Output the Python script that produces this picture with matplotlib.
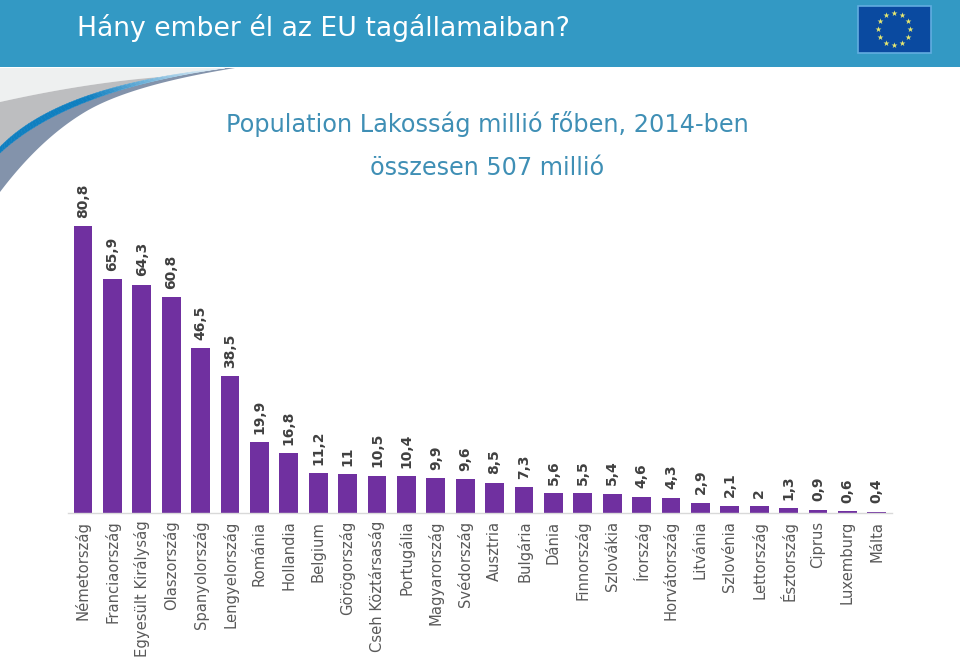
import numpy as np
from matplotlib import pyplot as plt
from matplotlib.colors import to_rgb
from matplotlib.patches import Rectangle

countries = ["Németország", "Franciaország", "Egyesült Királyság", "Olaszország",
             "Spanyolország", "Lengyelország", "Románia", "Hollandia", "Belgium",
             "Görögország", "Cseh Köztársaság", "Portugália", "Magyarország",
             "Svédország", "Ausztria", "Bulgária", "Dánia", "Finnország", "Szlovákia",
             "Írország", "Horvátország", "Litvánia", "Szlovénia", "Lettország",
             "Észtország", "Ciprus", "Luxemburg", "Málta"]
population = [80.8, 65.9, 64.3, 60.8, 46.5, 38.5, 19.9, 16.8, 11.2, 11, 10.5, 10.4,
              9.9, 9.6, 8.5, 7.3, 5.6, 5.5, 5.4, 4.6, 4.3, 2.9, 2.1, 2, 1.3, 0.9, 0.6, 0.4]
pop_labels = ["80,8", "65,9", "64,3", "60,8", "46,5", "38,5", "19,9", "16,8", "11,2",
              "11", "10,5", "10,4", "9,9", "9,6", "8,5", "7,3", "5,6", "5,5", "5,4",
              "4,6", "4,3", "2,9", "2,1", "2", "1,3", "0,9", "0,6", "0,4"]

W, H = 960, 658
BLUE = "#3399c4"
PURPLE = "#7030a0"


def bezier(p0, p1, p2, n=60):
    t = np.linspace(0, 1, n)[:, None]
    p0, p1, p2 = map(np.array, (p0, p1, p2))
    return (1 - t) ** 2 * p0 + 2 * t * (1 - t) * p1 + t ** 2 * p2


def band(ax, upper, lower, color, lw=0):
    pts = np.vstack([upper, lower[::-1]])
    ax.fill(pts[:, 0], pts[:, 1], facecolor=color, edgecolor=color, lw=lw)


fig = plt.figure(figsize=(W / 100, H / 100), dpi=100, facecolor="white")

# background layer in pixel coordinates
bg = fig.add_axes([0, 0, 1, 1])
bg.set_xlim(0, W)
bg.set_ylim(H, 0)
bg.axis("off")

bg.add_patch(Rectangle((0, 0), W, 66.5, color=BLUE, lw=0))

# swoosh under the header
edge_top = bezier((0, 102), (85, 83), (160, 77))
blue_up = bezier((0, 147), (60, 85), (225, 68))
blue_low = bezier((0, 153), (68, 90), (225, 68))
under = np.vstack([bezier((0, 192), (40, 139), (85, 112)),
                   bezier((85, 112), (130, 85), (235, 68))])

pale = np.vstack([[[0, 68], [235, 68]], blue_up[blue_up[:, 0] > 160][::-1], edge_top[::-1]])
bg.fill(pale[:, 0], pale[:, 1], color="#eef0f0", lw=0)
band(bg, edge_top, blue_up[blue_up[:, 0] <= 160], "#bdbec0")
band(bg, blue_low, under, "#8393ab")

c_from, c_to = np.array(to_rgb("#0f7fc0")), np.array(to_rgb("#e4f0f8"))
for i in range(len(blue_up) - 1):
    mix = np.clip((blue_up[i, 0] - 85) / 125, 0, 1)
    band(bg, blue_up[i:i + 2], blue_low[i:i + 2], tuple(c_from + mix * (c_to - c_from)), lw=0.4)

bg.text(77, 28, "Hány ember él az EU tagállamaiban?", color="white", fontsize=19.2,
        ha="left", va="center")
bg.text(487, 124, "Population Lakosság millió főben, 2014-ben", color="#3f8fb5",
        fontsize=17.3, ha="center", va="center")
bg.text(487, 168, "összesen 507 millió", color="#3f8fb5", fontsize=17.2,
        ha="center", va="center")

# EU flag
bg.add_patch(Rectangle((858, 5.5), 72.5, 47, fc="#0a4aa0", ec="#62ade0", lw=1.2))
star_angle = np.deg2rad(np.arange(12) * 30)
bg.scatter(894 + 16 * np.sin(star_angle), 29 - 16 * np.cos(star_angle),
           marker="*", s=20, color="#e8e870", lw=0)

# bars
left, right, base, top = 68.3, 891.5, 513, 190
ax = fig.add_axes([left / W, 1 - base / H, (right - left) / W, (base - top) / H])
ax.patch.set_alpha(0)
x = np.arange(len(countries))
bars = ax.bar(x, population, width=0.64, color=PURPLE, lw=0)
ax.set_xlim(-0.5, len(countries) - 0.5)
ax.set_ylim(0, (base - top) / 3.55)
ax.bar_label(bars, labels=pop_labels, rotation=90, padding=6, fontsize=10,
             fontweight="bold", color="#404040")
ax.set_xticks(x, countries, rotation=90, fontsize=10.6, color="#595959")
ax.tick_params(axis="x", length=0, pad=5.5)
ax.set_yticks([])
for side in ["left", "right", "top"]:
    ax.spines[side].set_visible(False)
ax.spines["bottom"].set_color("#d9d9d9")
ax.spines["bottom"].set_linewidth(1)

fig.savefig("out.png", dpi=100)
